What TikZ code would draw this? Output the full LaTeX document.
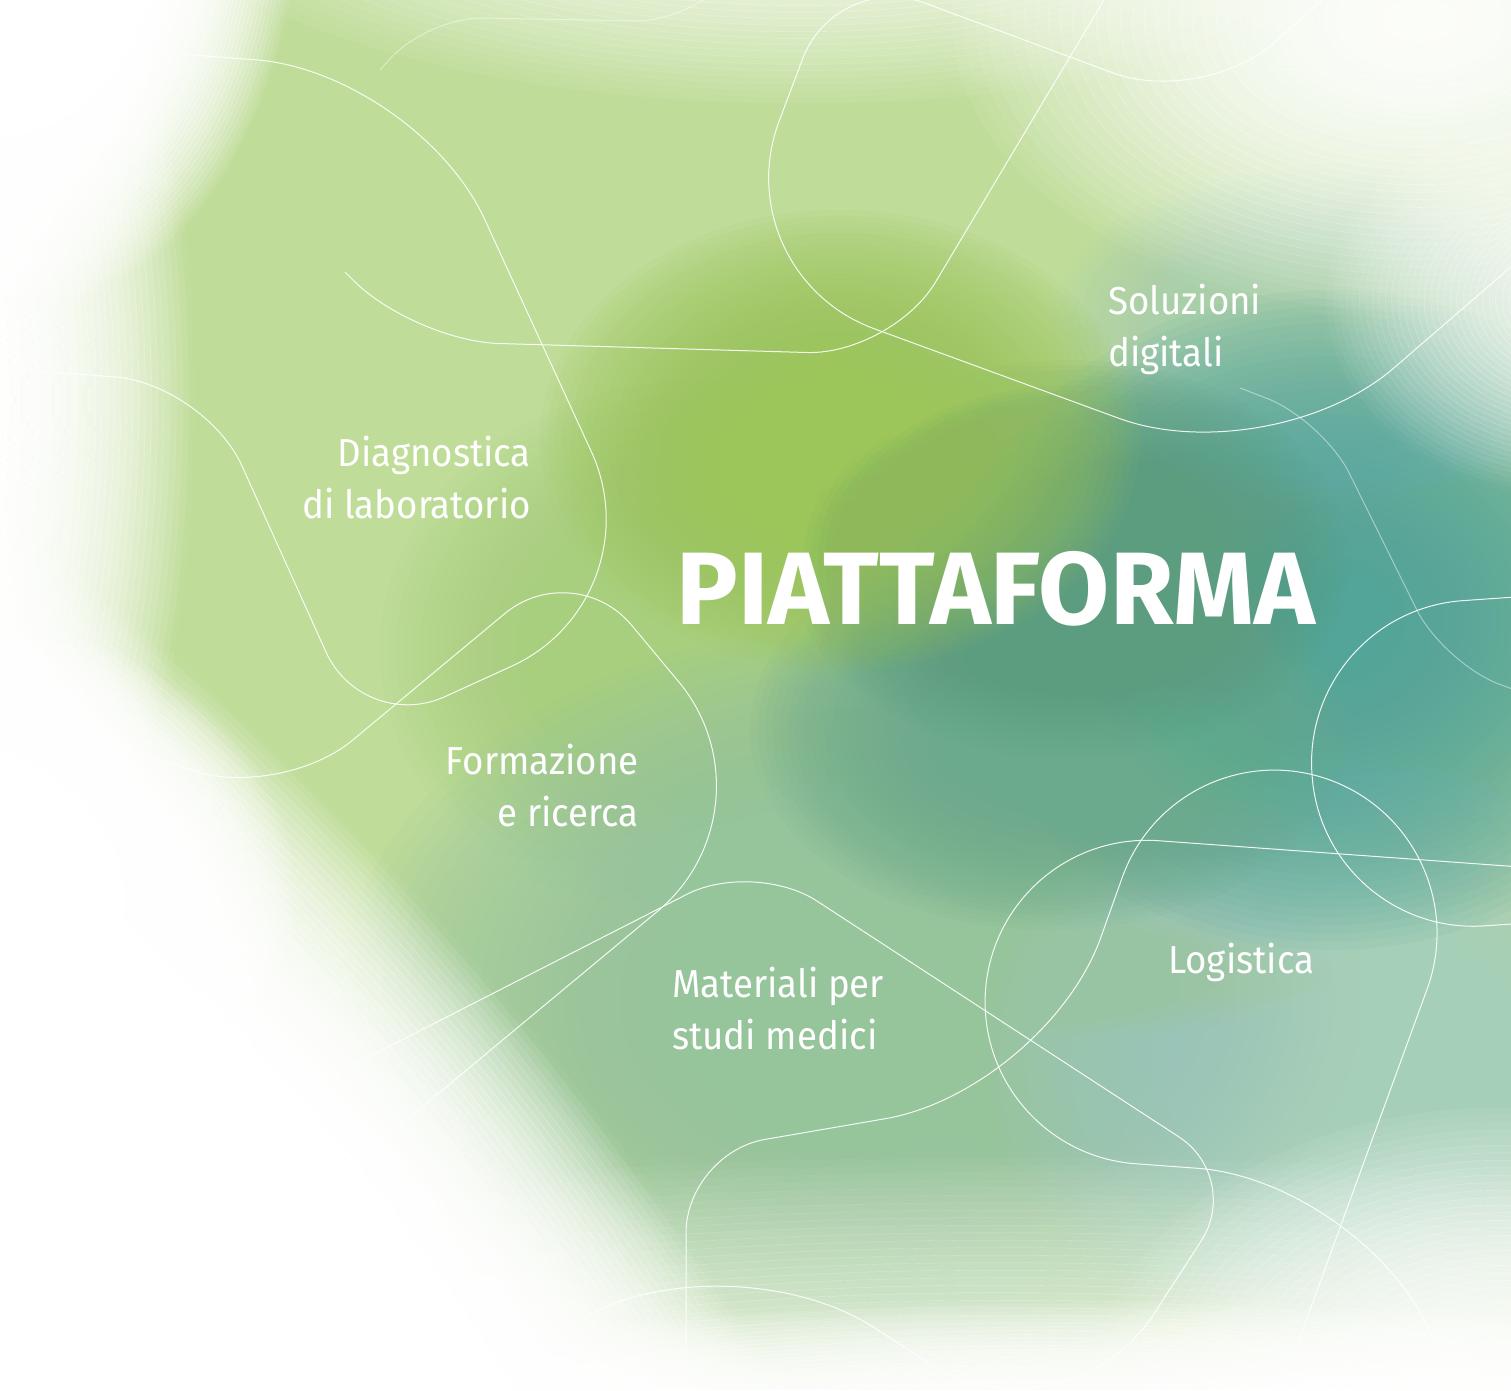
\documentclass[tikz,border=0pt]{standalone}
\usepackage{fontspec}
\setmainfont{Fira Sans}
\newfontfamily\labfont{Fira Sans}[FakeStretch=0.94]
\usepackage{xcolor}
\usepackage{tikz}
\definecolor{basegreen}{HTML}{BFDC98}
\definecolor{vividgreen}{HTML}{9CC55A}
\definecolor{midgreen}{HTML}{A8CF7E}
\definecolor{darkmid}{HTML}{5C9D80}
\definecolor{centgreen}{HTML}{6CAA8D}
\definecolor{tealcore}{HTML}{52A59F}
\definecolor{lowgreen}{HTML}{96C4A8}
\definecolor{uppergray}{HTML}{A9CFB6}
\definecolor{lowteal}{HTML}{A6CFC4}
\definecolor{paleband}{HTML}{A8CBA4}
% soft cloud: colour, step opacity, x, y, x radius, y radius
\newcommand\haze[6]{%
  \foreach \k in {1,...,40}{
    \fill[#1, opacity=#2] (#3,#4) ellipse [x radius={#5/40*\k}, y radius={#6/40*\k}];
  }%
}
% white fog, solid core and soft rim: x, y, x radius, y radius
\newcommand\fog[4]{%
  \fill[white] (#1,#2) ellipse [x radius={#3*0.5}, y radius={#4*0.5}];
  \foreach \k in {1,...,40}{
    \pgfmathsetmacro\sa{0.5+(\k-1)/80}
    \pgfmathsetmacro\sb{0.5+\k/80}
    \pgfmathsetmacro\op{1-((\k-0.5)/40)^3}
    \fill[white, opacity=\op, even odd rule] (#1,#2) ellipse [x radius={#3*\sb}, y radius={#4*\sb}]
      (#1,#2) ellipse [x radius={#3*\sa-0.3}, y radius={#4*\sa-0.3}];
  }%
}
% white mist, no core: x, y, x radius, y radius, peak opacity
\newcommand\mist[5]{%
  \fill[white, opacity=#5] (#1,#2) ellipse [x radius={#3/40}, y radius={#4/40}];
  \foreach \k in {2,...,40}{
    \pgfmathsetmacro\sa{(\k-1)/40}
    \pgfmathsetmacro\sb{\k/40}
    \pgfmathsetmacro\op{#5*(1-((\k-0.5)/40)^2)}
    \fill[white, opacity=\op, even odd rule] (#1,#2) ellipse [x radius={#3*\sb}, y radius={#4*\sb}]
      (#1,#2) ellipse [x radius={#3*\sa-0.3}, y radius={#4*\sa-0.3}];
  }%
}

\begin{document}
\begin{tikzpicture}[
    x=1pt, y=-1pt,
    wline/.style={draw=white, line width=1pt, opacity=0.9},
    faint/.style={draw=white, line width=1pt, opacity=0.45},
    lab/.style={text=white, inner sep=0pt, font=\labfont\fontsize{39}{52}\selectfont},
    bigtitle/.style={text=white, inner sep=0pt, font=\bfseries\fontsize{103}{110}\selectfont}
]
\useasboundingbox (0,0) rectangle (1511,1390);
\clip (0,0) rectangle (1511,1390);
\fill[basegreen] (0,0) rectangle (1511,1390);

% colour clouds
\haze{midgreen}{0.075}{700}{650}{320}{270}
\haze{lowgreen}{0.075}{900}{1000}{560}{380}
\haze{lowteal}{0.075}{1350}{1060}{360}{300}
\haze{uppergray}{0.075}{1330}{330}{280}{170}
\haze{tealcore}{0.075}{1330}{620}{380}{330}
\haze{centgreen}{0.075}{1050}{730}{300}{200}
\haze{darkmid}{0.075}{1070}{560}{280}{200}
\haze{vividgreen}{0.075}{840}{440}{300}{230}
\haze{paleband}{0.04}{1090}{975}{240}{60}

% white edges
\begin{scope}[transform canvas={shift={(134,1334)}, rotate=-50.7}]
  \fog{0}{0}{1300}{500}
\end{scope}
\fog{-300}{400}{495}{900}
\fog{-100}{900}{400}{300}
\fog{0}{-100}{300}{420}
\fog{1100}{1600}{1400}{300}
\mist{1000}{1450}{1500}{300}{0.6}
\mist{1500}{1400}{420}{300}{0.85}
\mist{1420}{20}{480}{300}{0.95}
\mist{1580}{300}{260}{200}{0.7}
\mist{800}{-150}{700}{260}{0.85}

% Diagnostica di laboratorio
\draw[wline] (0,368) [rounded corners=90pt] -- (205,384) -- (363,734)
  [rounded corners=162pt] -- (659,599) -- (417,72)
  [rounded corners=90pt] -- (100,48);
% Soluzioni digitali
\draw[wline] (1400,-68) [rounded corners=95pt] -- (1202,106) -- (836,-30)
  [rounded corners=162pt] -- (722,273) -- (1271,474)
  [rounded corners=90pt] -- (1600,190);
\draw[wline] (345,272) [rounded corners=85pt] -- (414,341) -- (892,355)
  [rounded corners=80pt] -- (1120,-27);
\draw[faint, rounded corners=55pt] (380,70) -- (428,17) -- (690,22) -- (745,-40);
\draw[faint, rounded corners=90pt] (1270,68) -- (1560,92) -- (1640,270);
\draw[faint, rounded corners=60pt] (1240,388) -- (1323,420) -- (1443,663) -- (1600,722);
\draw[wline, rounded corners=162pt] (1700,584) -- (1301,612) -- (1323,937) -- (1700,911);
% Logistica
\draw[wline] (1299,1340) [rounded corners=163pt] -- (1483,836) -- (1177,724)
  -- (1046,1091) [rounded corners=80pt] -- (686,1153)
  [rounded corners=120pt] -- (686,1420);
\draw[wline] (1700,880) [rounded corners=162pt] -- (997,829) -- (974,1152)
  -- (1359,1180) [rounded corners=88pt] -- (1470,1418);
% Materiali per studi medici
\draw[wline] (300,1092) [rounded corners=75pt] -- (754,860) -- (1242,1178)
  [rounded corners=163pt] -- (1065,1451) -- (737,1239)
  [rounded corners=75pt] -- (500,1360);
% Formazione e ricerca
\draw[wline] (60,730) [rounded corners=90pt] -- (283,798) -- (574,556)
  [rounded corners=163pt] -- (783,807) -- (250,1250);

\node[lab, align=right, anchor=base east] (diag) at (531,518) {Diagnostica\\di laboratorio};
\node[lab, align=left, anchor=base west] (digi) at (1108,366) {Soluzioni\\digitali};
\node[lab, align=right, anchor=base east] (form) at (639,826) {Formazione\\e ricerca};
\node[lab, align=left, anchor=base west] (mate) at (672,1049) {Materiali per\\studi medici};
\node[lab, anchor=base west] (logi) at (1168,973) {Logistica};
\node[bigtitle, anchor=base west] (piat) at (676,624) {PIATTAFORMA};
\end{tikzpicture}
\end{document}
